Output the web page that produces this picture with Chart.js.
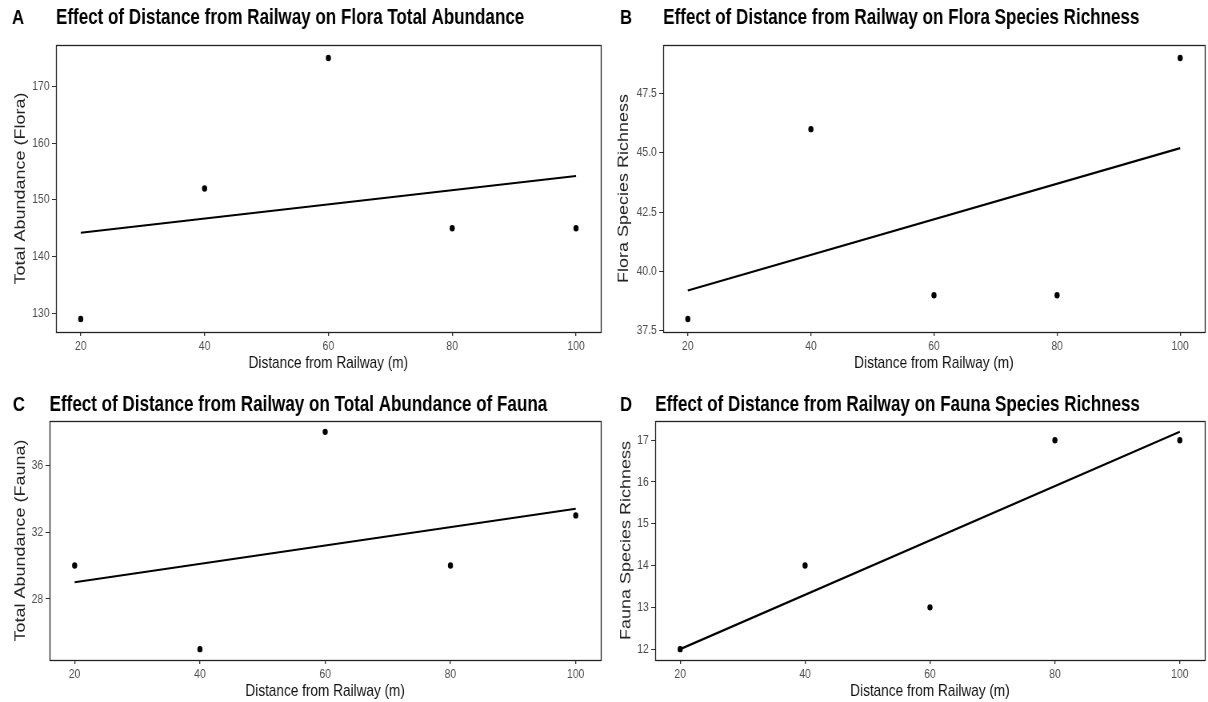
<!DOCTYPE html>
<html lang="en">
<head>
    <meta charset="UTF-8">
    <title>Effect of Distance from Railway</title>
    <script src="https://cdn.jsdelivr.net/npm/chart.js"></script>
    <style>
        body { margin: 0; background: #fff; }
        /* the source figure is squeezed sideways, so each canvas is drawn wider and shown at 80% width */
        .panel { position: absolute; }
    </style>
</head>
<body>
    <canvas id="chartA" class="panel" width="755" height="374" style="left:0px;top:0px;width:604px;height:374px"></canvas>
    <canvas id="chartB" class="panel" width="755" height="374" style="left:604px;top:0px;width:604px;height:374px"></canvas>
    <canvas id="chartC" class="panel" width="755" height="319" style="left:0px;top:383px;width:604px;height:319px"></canvas>
    <canvas id="chartD" class="panel" width="755" height="319" style="left:604px;top:383px;width:604px;height:319px"></canvas>

    <script type="text/javascript">
        // data
        const distance = [20, 40, 60, 80, 100];
        const floraAbundance = [129, 152, 175, 145, 145];
        const floraRichness = [38, 46, 39, 39, 49];
        const faunaAbundance = [30, 25, 38, 30, 33];
        const faunaRichness = [12, 14, 13, 17, 17];

        // fitted lines (end points)
        const fitX = [20, 100];
        const floraAbundanceFit = [144.2, 154.2];
        const floraRichnessFit = [39.2, 45.2];
        const faunaAbundanceFit = [29.0, 33.4];
        const faunaRichnessFit = [12.0, 17.2];

        // ticks and axis limits
        const xTicks = [20, 40, 60, 80, 100];
        const xRange = [16, 104];
        const floraAbundanceTicks = [130, 140, 150, 160, 170];
        const floraAbundanceRange = [126.7, 177.3];
        const floraRichnessTicks = [37.5, 40, 42.5, 45, 47.5];
        const floraRichnessRange = [37.45, 49.55];
        const faunaAbundanceTicks = [28, 32, 36];
        const faunaAbundanceRange = [24.35, 38.65];
        const faunaRichnessTicks = [12, 13, 14, 15, 16, 17];
        const faunaRichnessRange = [11.74, 17.46];

        const sans = "'Liberation Sans', Arial, sans-serif";

        // full border round the plot area plus the panel letter
        const panelExtras = {
            id: 'panelExtras',
            afterDraw(chart, args, opts) {
                const ctx = chart.ctx;
                const a = chart.chartArea;
                ctx.save();
                ctx.strokeStyle = '#222';
                ctx.lineWidth = 1.3;
                ctx.strokeRect(Math.round(a.left) + 0.5, Math.round(a.top) + 0.5,
                    Math.round(a.right - a.left), Math.round(a.bottom - a.top));
                ctx.fillStyle = '#000';
                ctx.font = 'bold 21px ' + sans;
                ctx.textBaseline = 'middle';
                ctx.textAlign = 'left';
                ctx.fillText(opts.letter, opts.letterX, opts.letterY);
                ctx.restore();
            }
        };

        function makePanel(id, p) {
            const ctx = document.getElementById(id).getContext('2d');
            return new Chart(ctx, {
                type: 'scatter',
                data: {
                    datasets: [{
                        label: 'observed',
                        data: distance.map((d, i) => ({x: d, y: p.values[i]})),
                        backgroundColor: '#000',
                        borderColor: '#000',
                        pointRadius: 3.2,
                        pointBorderWidth: 0
                    }, {
                        type: 'line',
                        label: 'fit',
                        data: fitX.map((d, i) => ({x: d, y: p.fit[i]})),
                        borderColor: '#000',
                        borderWidth: 2.2,
                        pointRadius: 0,
                        fill: false
                    }]
                },
                options: {
                    responsive: false,
                    animation: false,
                    devicePixelRatio: 1,
                    layout: { padding: { left: 0, right: p.padRight, top: 0, bottom: 0 } },
                    plugins: {
                        legend: { display: false },
                        tooltip: { enabled: false },
                        title: {
                            display: true,
                            text: p.title,
                            align: 'start',
                            fullSize: false,
                            color: '#000',
                            font: { family: sans, size: 21.3, weight: 'bold' },
                            padding: { top: p.titleTop, bottom: p.titleBottom }
                        },
                        panelExtras: { letter: p.letter, letterX: p.letterX, letterY: p.titleTop + 12.8 }
                    },
                    scales: {
                        x: {
                            type: 'linear',
                            min: xRange[0],
                            max: xRange[1],
                            afterBuildTicks: s => { s.ticks = xTicks.map(v => ({value: v})); },
                            afterFit: s => { s.height = p.xAxisHeight; },
                            grid: { display: true, drawOnChartArea: false, drawTicks: true, tickLength: 4, color: '#333', lineWidth: 1.3 },
                            border: { display: false },
                            ticks: { color: '#4d4d4d', font: { family: sans, size: 13 }, padding: 3, maxRotation: 0 },
                            title: {
                                display: true,
                                text: 'Distance from Railway (m)',
                                color: '#111',
                                font: { family: sans, size: 17 },
                                padding: { top: 0, bottom: 0 }
                            }
                        },
                        y: {
                            type: 'linear',
                            min: p.range[0],
                            max: p.range[1],
                            afterBuildTicks: s => { s.ticks = p.ticks.map(v => ({value: v})); },
                            afterFit: s => { s.width = p.yAxisWidth; },
                            grid: { display: true, drawOnChartArea: false, drawTicks: true, tickLength: 5, color: '#333' },
                            border: { display: false },
                            ticks: {
                                color: '#4d4d4d',
                                font: { family: sans, size: 13 },
                                padding: 3,
                                callback: v => p.decimals ? v.toFixed(p.decimals) : String(v)
                            },
                            title: {
                                display: true,
                                text: p.yTitle,
                                color: '#222',
                                font: { family: sans, size: 18 },
                                padding: { top: p.yTitlePad, bottom: 0 }
                            }
                        }
                    }
                },
                plugins: [panelExtras]
            });
        }

        makePanel('chartA', {
            letter: 'A', letterX: 15,
            title: 'Effect of Distance from Railway on Flora Total Abundance',
            titleTop: 5, titleBottom: 14.4,
            values: floraAbundance, fit: floraAbundanceFit,
            ticks: floraAbundanceTicks, range: floraAbundanceRange, decimals: 0,
            yTitle: 'Total Abundance (Flora)', yTitlePad: 15,
            yAxisWidth: 70, xAxisHeight: 42, padRight: 4
        });
        makePanel('chartB', {
            letter: 'B', letterX: 20,
            title: 'Effect of Distance from Railway on Flora Species Richness',
            titleTop: 5, titleBottom: 14.4,
            values: floraRichness, fit: floraRichnessFit,
            ticks: floraRichnessTicks, range: floraRichnessRange, decimals: 1,
            yTitle: 'Flora Species Richness', yTitlePad: 14.5,
            yAxisWidth: 74, xAxisHeight: 42, padRight: 4
        });
        makePanel('chartC', {
            letter: 'C', letterX: 16,
            title: 'Effect of Distance from Railway on Total Abundance of Fauna',
            titleTop: 9, titleBottom: 3.4,
            values: faunaAbundance, fit: faunaAbundanceFit,
            ticks: faunaAbundanceTicks, range: faunaAbundanceRange, decimals: 0,
            yTitle: 'Total Abundance (Fauna)', yTitlePad: 15,
            yAxisWidth: 62, xAxisHeight: 42, padRight: 3
        });
        makePanel('chartD', {
            letter: 'D', letterX: 20,
            title: 'Effect of Distance from Railway on Fauna Species Richness',
            titleTop: 9, titleBottom: 3.4,
            values: faunaRichness, fit: faunaRichnessFit,
            ticks: faunaRichnessTicks, range: faunaRichnessRange, decimals: 0,
            yTitle: 'Fauna Species Richness', yTitlePad: 17.5,
            yAxisWidth: 64, xAxisHeight: 42, padRight: 4
        });
    </script>
</body>
</html>
